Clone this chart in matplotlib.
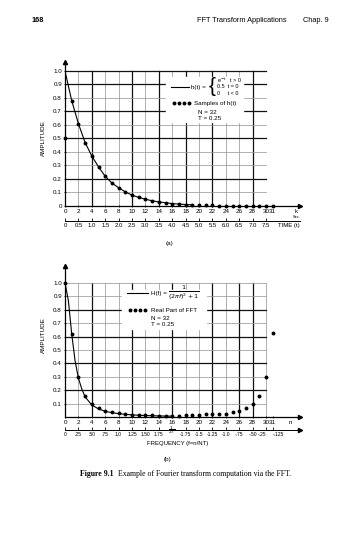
import matplotlib.pyplot as plt
from matplotlib.lines import Line2D
from matplotlib.patches import Rectangle

plt.rcParams['font.family'] = ['Liberation Sans', 'DejaVu Sans']

W, H = 360, 538                                   # page size in pixels

# (a) samples of h(t) = e^-t, N = 32, T = 0.25
k_samples = list(range(32))
h_samples = [0.5, 0.78, 0.61, 0.47, 0.37, 0.29, 0.22, 0.17, 0.135, 0.105,
             0.08, 0.064, 0.05, 0.039, 0.03, 0.024, 0.018, 0.014, 0.011, 0.009,
             0.007, 0.005, 0.004, 0.003, 0.002, 0.002, 0.002, 0.001, 0.001, 0.001,
             0.001, 0.0]
k_curve = list(range(20))
h_curve = [1.0, 0.78, 0.61, 0.47, 0.37, 0.29, 0.22, 0.17, 0.135, 0.105,
           0.08, 0.064, 0.05, 0.039, 0.03, 0.024, 0.018, 0.014, 0.011, 0.009]
k_ticks = list(range(0, 31, 2)) + [31]
time_pos = list(range(0, 31, 2))
time_labels = ["0", "0.5", "1.0", "1.5", "2.0", "2.5", "3.0", "3.5", "4.0",
               "4.5", "5.0", "5.5", "6.0", "6.5", "7.0", "7.5"]

# (b) real part of the FFT and H(f)
n_samples = list(range(32))
H_real = [1.0, 0.62, 0.30, 0.16, 0.10, 0.065, 0.045, 0.035, 0.028, 0.022,
          0.018, 0.015, 0.013, 0.012, 0.011, 0.011, 0.011, 0.011, 0.012, 0.015,
          0.017, 0.02, 0.022, 0.022, 0.025, 0.035, 0.045, 0.07, 0.10, 0.16,
          0.30, 0.63]
n_curve = [0, 0.5, 1, 1.5, 2, 2.5, 3, 4, 5, 6, 7, 8, 9, 10, 11, 12, 13, 14, 15, 16]
H_curve = [1.0, 0.87, 0.62, 0.42, 0.29, 0.21, 0.15, 0.09, 0.06, 0.043,
           0.032, 0.025, 0.02, 0.016, 0.013, 0.011, 0.0095, 0.008, 0.007, 0.006]
freq_pos = list(range(0, 15, 2)) + list(range(18, 31, 2)) + [31]
freq_labels = ["0", ".25", ".50", ".75", "1.0", "1.25", "1.50", "1.75",
               "-1.75", "-1.5", "-1.25", "-1.0", "-.75", "-.50", "-.25", "-.125"]

# graph paper lines of each chart
a_dark_v = [4, 10, 14, 18, 22, 28]
a_gray_v = [2, 6, 8, 12, 16, 20, 24, 26]
a_dark_h = [0.2, 0.5, 0.7, 0.9, 1.0]
a_gray_h = [0.1, 0.3, 0.4, 0.6, 0.8]
b_dark_v = [4, 10, 16, 22, 26, 28]
b_gray_v = [2, 6, 8, 12, 14, 18, 20, 24, 30]
b_dark_h = [0.2, 0.4, 0.6, 0.8]
b_gray_h = [0.1, 0.3, 0.5, 0.7, 0.9, 1.0]


def fx(px):                                       # pixel -> figure fraction
    return px / W


def fy(py):
    return 1 - py / H


def ftext(x, y, s, **kw):
    kw.setdefault('fontsize', 4.5)
    kw.setdefault('va', 'center')
    return fig.text(fx(x), fy(y), s, **kw)


def make_axes(y_zero, y_top):
    ax = fig.add_axes([fx(65), fy(y_zero), 234.5 / W, (y_zero - y_top) / H])
    ax.set_xlim(0, 35)
    for s in ['top', 'right']:
        ax.spines[s].set_visible(False)
    for s in ['left', 'bottom']:
        ax.spines[s].set_linewidth(0.9)
    ax.tick_params(labelsize=4.5, length=1.5, width=0.6, pad=1.5, direction='inout')
    ax.plot(1, 0, '>k', ms=3, transform=ax.transAxes, clip_on=False)
    ax.plot(0, 1, '^k', ms=3, transform=ax.transAxes, clip_on=False)
    return ax


def paper(ax, dark_v, gray_v, dark_h, gray_h):
    for x in gray_v:
        ax.plot([x, x], [0, 1.0], color='#9a9a9a', lw=0.55, zorder=1)
    for x in dark_v:
        ax.plot([x, x], [0, 1.0], color='#111111', lw=0.9, zorder=1)
    for y in gray_h:
        ax.plot([0, 30], [y, y], color='#9a9a9a', lw=0.55, zorder=1)
    for y in dark_h:
        ax.plot([0, 30], [y, y], color='#111111', lw=0.9, zorder=1)


def bottom_scale(y, pos, labels, size):
    axs = fig.add_axes([fx(65), fy(y), 234.5 / W, 0.0001])
    axs.set_xlim(0, 35)
    axs.set_yticks([])
    for s in ['top', 'right', 'left']:
        axs.spines[s].set_visible(False)
    axs.spines['bottom'].set_linewidth(0.7)
    axs.set_xticks(pos)
    axs.set_xticklabels(labels)
    axs.tick_params(labelsize=size, length=2, width=0.6, pad=1.2, direction='in')
    axs.patch.set_visible(False)
    return axs


fig = plt.figure(figsize=(3.6, 5.38), dpi=100)

# page header
ftext(32, 21, "168", fontweight='bold', fontsize=5.3)
ftext(197, 21, "FFT Transform Applications", fontsize=5.3)
ftext(303, 21, "Chap. 9", fontsize=5.3)

# ---- chart (a)
ax1 = make_axes(206, 61.5)
ax1.set_ylim(0, 1.07)
paper(ax1, a_dark_v, a_gray_v, a_dark_h, a_gray_h)
ax1.add_patch(Rectangle((15, 0.62), 11.5, 0.335, color='white', zorder=2))
ax1.plot(k_curve, h_curve, color='black', lw=0.8, zorder=3)
ax1.plot(k_samples, h_samples, 'o', color='black', ms=1.8, zorder=4, clip_on=False)
ax1.set_xticks(k_ticks)
ax1.set_yticks([i / 10 for i in range(11)])
ax1.set_yticklabels(["0"] + [f"{i / 10:.1f}" for i in range(1, 11)])
ftext(43, 138, "AMPLITUDE", rotation=90, ha='center', fontsize=4.5)
ftext(296, 212, "k", ha='center')

# legend (a)
fig.add_artist(Line2D([fx(171), fx(189)], [fy(87), fy(87)], color='black', lw=0.8))
ftext(191, 87, "h(t) =", fontsize=4.5)
ftext(209, 86.5, "{", fontsize=15, fontweight='light')
ftext(217, 81, "e$^{-t}$   t > 0", fontsize=4)
ftext(217, 87, "0.5  t = 0", fontsize=4)
ftext(217, 93, "0     t < 0", fontsize=4)
fig.add_artist(Line2D([fx(x) for x in [174, 179, 184, 189]], [fy(103)] * 4,
                      ls='none', marker='o', ms=1.8, color='black'))
ftext(194, 103, "Samples of h(t)", fontsize=4.5)
ftext(198, 112, "N = 32", fontsize=4.5)
ftext(198, 118, "T = 0.25", fontsize=4.5)

# time scale under (a)
bottom_scale(221, time_pos, time_labels, 4.3)
ftext(278, 225.5, "TIME (t)", fontsize=4.3)
ftext(293, 217.5, "Sec.", fontsize=2.8)
ftext(170, 243, "(a)", ha='center', fontsize=4.5)

# ---- chart (b)
ax2 = make_axes(417, 265.5)
ax2.set_ylim(0, 1.13)
paper(ax2, b_dark_v, b_gray_v, b_dark_h, b_gray_h)
ax2.add_patch(Rectangle((8.5, 0.66), 12.5, 0.285, color='white', zorder=2))
ax2.plot(n_curve, H_curve, color='black', lw=0.8, zorder=3)
ax2.plot(n_samples, H_real, 'o', color='black', ms=1.8, zorder=4, clip_on=False)
ax2.set_xticks(k_ticks)
ax2.set_yticks([i / 10 for i in range(1, 11)])
ax2.set_yticklabels([f"{i / 10:.1f}" for i in range(1, 11)])
ftext(43, 335, "AMPLITUDE", rotation=90, ha='center', fontsize=4.5)
ftext(290, 422, "n", ha='center')

# legend (b)
fig.add_artist(Line2D([fx(127), fx(148)], [fy(293), fy(293)], color='black', lw=0.8))
ftext(151, 293, "H(f) =", fontsize=4.5)
ftext(168, 293, r"$\frac{1}{(2\pi f)^2 + 1}$", fontsize=6.5)
fig.add_artist(Line2D([fx(x) for x in [130, 135, 140, 145]], [fy(310)] * 4,
                      ls='none', marker='o', ms=1.8, color='black'))
ftext(151, 310, "Real Part of FFT", fontsize=4.5)
ftext(151, 318, "N = 32", fontsize=4.5)
ftext(151, 324, "T = 0.25", fontsize=4.5)

# frequency scale under (b)
axf = bottom_scale(430, freq_pos, freq_labels, 3.6)
axf.plot(1, 0, '>k', ms=3, transform=axf.transAxes, clip_on=False)
tl = axf.get_xticklabels()
tl[-2].set_ha('right')
tl[-1].set_ha('left')
ftext(172, 430, r"$\frac{1}{2T}$", ha='center', fontsize=4.5)
ftext(178, 443, "FREQUENCY (f=n/NT)", ha='center', fontsize=4.3)
ftext(168, 460, "(b)", ha='center', fontsize=4.5)

# caption: bold figure number followed by the sentence
cap1 = ftext(80, 474, "Figure 9.1", family='Liberation Serif', fontweight='bold',
             fontsize=5.6)
fig.canvas.draw()
bb = cap1.get_window_extent(fig.canvas.get_renderer())
ftext(bb.x1 + 5, 474, "Example of Fourier transform computation via the FFT.",
      family='Liberation Serif', fontsize=5.6)

fig.savefig("out.png", dpi=100)
